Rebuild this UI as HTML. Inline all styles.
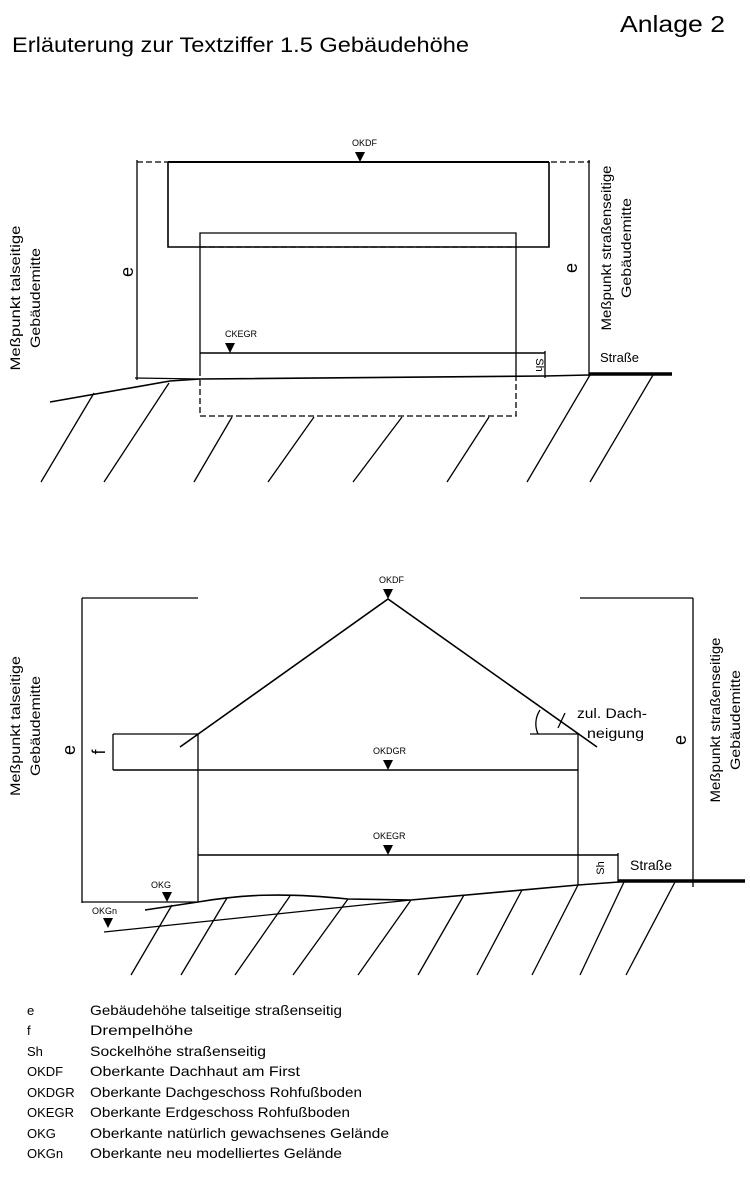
<!DOCTYPE html>
<html><head><meta charset="utf-8"><style>
html,body{margin:0;padding:0;background:#fff;}
svg{display:block;}
text{font-family:"Liberation Sans",sans-serif;fill:#000;}
</style></head><body>
<svg width="750" height="1180" viewBox="0 0 750 1180" xmlns="http://www.w3.org/2000/svg">
<text x="620" y="32" font-size="23" textLength="105" lengthAdjust="spacingAndGlyphs">Anlage 2</text>
<text x="12" y="52" font-size="21" textLength="457" lengthAdjust="spacingAndGlyphs">Erläuterung zur Textziffer 1.5 Gebäudehöhe</text>

<!-- TOP DIAGRAM -->
<g stroke="#000" fill="none" stroke-width="1.3">
<line x1="137" y1="162" x2="590" y2="162" stroke-dasharray="6,3"/>
<line x1="168" y1="162" x2="549" y2="162" stroke-width="2"/>
<line x1="137" y1="160" x2="137" y2="380"/>
<line x1="589" y1="160" x2="589" y2="376"/>
<polyline points="168,162 168,247 549,247 549,162" stroke-width="1.6"/>
<line x1="200" y1="247" x2="516" y2="247" stroke-dasharray="6,3"/>
<polyline points="200,376 200,233 516,233 516,376"/>
<polyline points="200,380 200,416 516,416 516,376" stroke-dasharray="6,3"/>
<line x1="200" y1="353" x2="545" y2="353" stroke-width="1.6"/>
<line x1="545" y1="351" x2="545" y2="378"/>
<line x1="135" y1="378" x2="200" y2="379"/>
<polyline points="50,402 170,381 200,379 545,376 589,375" stroke-width="1.6"/>
<line x1="589" y1="374" x2="672" y2="374" stroke-width="3.5"/>
<line x1="41" y1="482" x2="94" y2="393"/>
<line x1="104" y1="482" x2="169" y2="383"/>
<line x1="194" y1="482" x2="232" y2="417"/>
<line x1="268" y1="482" x2="314" y2="417"/>
<line x1="353" y1="482" x2="402" y2="417"/>
<line x1="447" y1="482" x2="489" y2="417"/>
<line x1="527" y1="482" x2="590" y2="375"/>
<line x1="590" y1="482" x2="653" y2="375"/>
</g>
<polygon points="355,152 365,152 360,162" fill="#000"/>
<polygon points="225,343 235,343 230,353" fill="#000"/>
<text x="352" y="146" font-size="9">OKDF</text>
<text x="225" y="337" font-size="9">CKEGR</text>
<text font-size="11" transform="translate(536 365) rotate(90)" text-anchor="middle">Sh</text>
<text x="600" y="362" font-size="13">Straße</text>
<text font-size="18" transform="translate(133 272) rotate(-90)" text-anchor="middle">e</text>
<text font-size="18" transform="translate(577 268) rotate(-90)" text-anchor="middle">e</text>
<text font-size="14" transform="translate(20 298) rotate(-90)" text-anchor="middle" textLength="145" lengthAdjust="spacingAndGlyphs">Meßpunkt talseitige</text>
<text font-size="14" transform="translate(40 298) rotate(-90)" text-anchor="middle" textLength="100" lengthAdjust="spacingAndGlyphs">Gebäudemitte</text>
<text font-size="14" transform="translate(611 248) rotate(-90)" text-anchor="middle" textLength="165" lengthAdjust="spacingAndGlyphs">Meßpunkt straßenseitige</text>
<text font-size="14" transform="translate(631 248) rotate(-90)" text-anchor="middle" textLength="100" lengthAdjust="spacingAndGlyphs">Gebäudemitte</text>

<!-- BOTTOM DIAGRAM -->
<g stroke="#000" fill="none" stroke-width="1.3">
<line x1="82" y1="598" x2="198" y2="598"/>
<line x1="580" y1="598" x2="693" y2="598"/>
<line x1="82" y1="598" x2="82" y2="903"/>
<line x1="693" y1="598" x2="693" y2="887"/>
<polyline points="180,747 388,599 597,747" stroke-width="1.6"/>
<line x1="198" y1="734" x2="198" y2="902"/>
<line x1="578" y1="734" x2="578" y2="885"/>
<line x1="113" y1="734" x2="198" y2="734"/>
<line x1="113" y1="734" x2="113" y2="770"/>
<line x1="113" y1="770" x2="578" y2="770" stroke-width="1.6"/>
<line x1="198" y1="855" x2="618" y2="855" stroke-width="1.6"/>
<line x1="618" y1="853" x2="618" y2="882"/>
<line x1="530" y1="734" x2="578" y2="734"/>
<path d="M540,710 A25,25 0 0 0 538,734"/>
<line x1="558" y1="728" x2="565" y2="713"/>
<line x1="82" y1="902" x2="198" y2="902"/>
<path d="M145,910 L198,902 C240,895 280,892 348,899 L411,900 L578,885 L619,882" stroke-width="1.6"/>
<line x1="104" y1="932" x2="411" y2="900"/>
<line x1="618" y1="881" x2="745" y2="881" stroke-width="3.5"/>
<line x1="131" y1="975" x2="172" y2="905"/>
<line x1="181" y1="975" x2="227" y2="898"/>
<line x1="235" y1="975" x2="290" y2="896"/>
<line x1="293" y1="975" x2="348" y2="899"/>
<line x1="358" y1="975" x2="411" y2="900"/>
<line x1="418" y1="975" x2="464" y2="895"/>
<line x1="477" y1="975" x2="522" y2="890"/>
<line x1="532" y1="975" x2="578" y2="885"/>
<line x1="580" y1="975" x2="624" y2="882"/>
<line x1="626" y1="975" x2="675" y2="882"/>
</g>
<polygon points="383,589 393,589 388,599" fill="#000"/>
<polygon points="383,760 393,760 388,770" fill="#000"/>
<polygon points="383,845 393,845 388,855" fill="#000"/>
<polygon points="162,892 172,892 167,902" fill="#000"/>
<polygon points="103,918 113,918 108,928" fill="#000"/>
<text x="379" y="583" font-size="9">OKDF</text>
<text x="373" y="754" font-size="9">OKDGR</text>
<text x="373" y="839" font-size="9">OKEGR</text>
<text x="151" y="888" font-size="9">OKG</text>
<text x="92" y="914" font-size="9">OKGn</text>
<text x="577" y="718" font-size="14" textLength="70" lengthAdjust="spacingAndGlyphs">zul. Dach-</text>
<text x="587" y="738" font-size="14" textLength="57" lengthAdjust="spacingAndGlyphs">neigung</text>
<text x="630" y="870" font-size="14">Straße</text>
<text font-size="11" transform="translate(604 868) rotate(-90)" text-anchor="middle">Sh</text>
<text font-size="18" transform="translate(75 750) rotate(-90)" text-anchor="middle">e</text>
<text font-size="18" transform="translate(105 752) rotate(-90)" text-anchor="middle">f</text>
<text font-size="18" transform="translate(686 740) rotate(-90)" text-anchor="middle">e</text>
<text font-size="14" transform="translate(20 726) rotate(-90)" text-anchor="middle" textLength="140" lengthAdjust="spacingAndGlyphs">Meßpunkt talseitige</text>
<text font-size="14" transform="translate(40 726) rotate(-90)" text-anchor="middle" textLength="100" lengthAdjust="spacingAndGlyphs">Gebäudemitte</text>
<text font-size="14" transform="translate(720 720) rotate(-90)" text-anchor="middle" textLength="165" lengthAdjust="spacingAndGlyphs">Meßpunkt straßenseitige</text>
<text font-size="14" transform="translate(740 720) rotate(-90)" text-anchor="middle" textLength="100" lengthAdjust="spacingAndGlyphs">Gebäudemitte</text>

<!-- LEGEND -->
<g font-size="14">
<text x="27" y="1015" font-size="13">e</text><text x="90" y="1015" textLength="252" lengthAdjust="spacingAndGlyphs">Gebäudehöhe talseitige straßenseitig</text>
<text x="27" y="1035" font-size="13">f</text><text x="90" y="1035" textLength="103" lengthAdjust="spacingAndGlyphs">Drempelhöhe</text>
<text x="27" y="1056" font-size="13">Sh</text><text x="90" y="1056" textLength="176" lengthAdjust="spacingAndGlyphs">Sockelhöhe straßenseitig</text>
<text x="27" y="1076" font-size="13">OKDF</text><text x="90" y="1076" textLength="210" lengthAdjust="spacingAndGlyphs">Oberkante Dachhaut am First</text>
<text x="27" y="1097" font-size="13">OKDGR</text><text x="90" y="1097" textLength="272" lengthAdjust="spacingAndGlyphs">Oberkante Dachgeschoss Rohfußboden</text>
<text x="27" y="1117" font-size="13">OKEGR</text><text x="90" y="1117" textLength="260" lengthAdjust="spacingAndGlyphs">Oberkante Erdgeschoss Rohfußboden</text>
<text x="27" y="1138" font-size="13">OKG</text><text x="90" y="1138" textLength="299" lengthAdjust="spacingAndGlyphs">Oberkante natürlich gewachsenes Gelände</text>
<text x="27" y="1158" font-size="13">OKGn</text><text x="90" y="1158" textLength="252" lengthAdjust="spacingAndGlyphs">Oberkante neu modelliertes Gelände</text>
</g>
</svg>
</body></html>
